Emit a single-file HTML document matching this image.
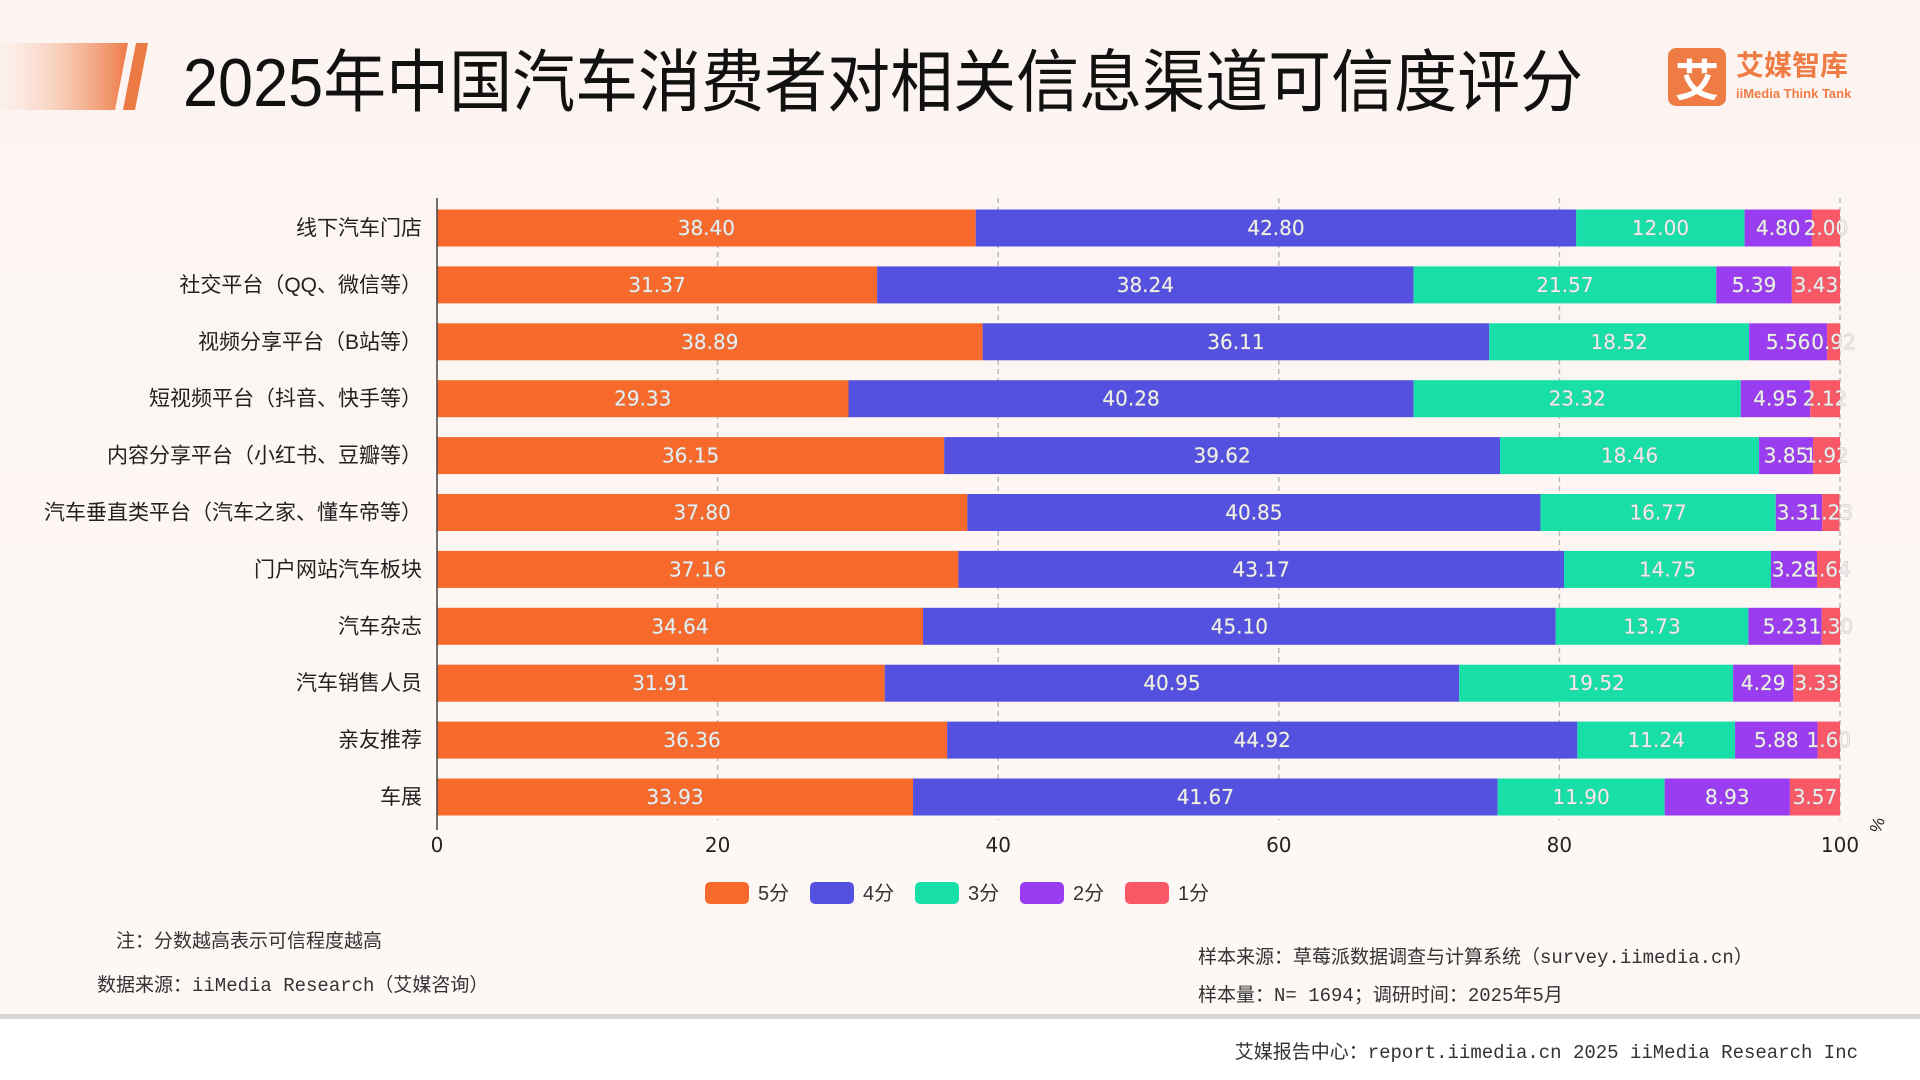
<!DOCTYPE html>
<html><head><meta charset="utf-8"><style>
body{margin:0;width:1920px;height:1080px;overflow:hidden;background:linear-gradient(180deg,#fcf4f0 0%,#fdf7f4 60%,#fdf8f6 100%);font-family:"Liberation Sans","Noto Sans CJK SC",sans-serif;position:relative}
.abs{position:absolute}
</style></head><body>
<svg class="abs" style="left:0;top:0" width="160" height="120">
<defs><linearGradient id="g" x1="0" x2="1"><stop offset="0" stop-color="#fbe9e0" stop-opacity="0.3"/><stop offset="1" stop-color="#ee7a45"/></linearGradient></defs>
<polygon points="0,43 128,43 115,110 0,110" fill="url(#g)"/>
<polygon points="136,43 148,43 135,110 123,110" fill="#ec7a45"/>
</svg>
<div class="abs" style="left:183px;top:28px;font-size:63px;color:#111;font-family:'Liberation Sans','Noto Sans CJK SC',sans-serif;white-space:nowrap;transform:scaleY(1.08);transform-origin:left top">2025年中国汽车消费者对相关信息渠道可信度评分</div>
<div class="abs" style="left:1668px;top:48px;width:192px;height:60px">
<div style="position:absolute;left:0;top:0;width:58px;height:58px;background:#ef7b45;border-radius:8px;color:#fff;font-size:44px;line-height:58px;text-align:center;font-family:'Noto Sans CJK SC',sans-serif;font-weight:bold">艾</div>
<div style="position:absolute;left:68px;top:0;font-size:28px;color:#ef7b45;font-weight:bold;font-family:'Noto Sans CJK SC',sans-serif;line-height:32px">艾媒智库</div>
<div style="position:absolute;left:68px;top:38px;font-size:13px;color:#ef7b45;font-weight:bold;white-space:nowrap">iiMedia Think Tank</div>
</div>
<svg id="chart" class="abs" style="left:0;top:0" width="1920" height="1080"></svg>
<div class="abs" style="left:116px;top:926px;font-size:19px;color:#333">注：分数越高表示可信程度越高</div>
<div class="abs" style="left:97px;top:970px;font-size:19px;color:#333;font-family:'Liberation Mono','Noto Sans CJK SC',monospace">数据来源：iiMedia Research（艾媒咨询）</div>
<div class="abs" style="left:1198px;top:942px;font-size:19px;color:#333;font-family:'Liberation Mono','Noto Sans CJK SC',monospace;white-space:nowrap">样本来源：草莓派数据调查与计算系统（survey.iimedia.cn）</div>
<div class="abs" style="left:1198px;top:980px;font-size:19px;color:#333;font-family:'Liberation Mono','Noto Sans CJK SC',monospace;white-space:nowrap">样本量：N= 1694；调研时间：2025年5月</div>
<div class="abs" style="left:0;top:1014px;width:1920px;height:5px;background:#d6d6d6"></div>
<div class="abs" style="left:0;top:1019px;width:1920px;height:61px;background:#fff"></div>
<div class="abs" style="right:62px;top:1037px;font-size:19px;color:#333;font-family:'Liberation Mono','Noto Sans CJK SC',monospace;white-space:nowrap">艾媒报告中心：report.iimedia.cn  2025 iiMedia Research Inc</div>
<script>
const categories=["线下汽车门店","社交平台（QQ、微信等）","视频分享平台（B站等）","短视频平台（抖音、快手等）","内容分享平台（小红书、豆瓣等）","汽车垂直类平台（汽车之家、懂车帝等）","门户网站汽车板块","汽车杂志","汽车销售人员","亲友推荐","车展"];
const s5=[38.40,31.37,38.89,29.33,36.15,37.80,37.16,34.64,31.91,36.36,33.93];
const s4=[42.80,38.24,36.11,40.28,39.62,40.85,43.17,45.10,40.95,44.92,41.67];
const s3=[12.00,21.57,18.52,23.32,18.46,16.77,14.75,13.73,19.52,11.24,11.90];
const s2=[4.80,5.39,5.56,4.95,3.85,3.31,3.28,5.23,4.29,5.88,8.93];
const s1=[2.00,3.43,0.92,2.12,1.92,1.23,1.64,1.30,3.33,1.60,3.57];
const seriesNames=["5分","4分","3分","2分","1分"];
const xTicks=[0,20,40,60,80,100];
const colors=["#f86a2c","#5450e0","#17dfa7","#9a3cf0","#f95866"];
const series=[s5,s4,s3,s2,s1];
const svg=document.getElementById('chart');const NS="http://www.w3.org/2000/svg";
const X0=437,X1=1840,Y0=228,DY=56.9,BH=37;
const x=v=>X0+(X1-X0)*v/100;const y=i=>Y0+DY*i;
function mk(t,a,p){const e=document.createElementNS(NS,t);for(const k in a)e.setAttribute(k,a[k]);(p||svg).appendChild(e);return e;}
xTicks.forEach(t=>{if(t>0){const l=mk('line',{x1:x(t),x2:x(t),y1:198,y2:820,stroke:'#bbb','stroke-dasharray':'5,4','stroke-width':1.5});}
const tx=mk('text',{x:x(t),y:852,'text-anchor':'middle','font-size':20,fill:'#222','font-family':'DejaVu Sans,sans-serif'});tx.textContent=t;});
const pc=mk('text',{x:1880,y:834,'font-size':17,fill:'#222',transform:'rotate(-70 1880 834)'});pc.textContent='%';
categories.forEach((c,i)=>{let acc=0;
const lb=mk('text',{x:422,y:y(i)+7,'text-anchor':'end','font-size':21,fill:'#222'});lb.textContent=c;
series.forEach((s,k)=>{const v=s[i];const r=mk('rect',{x:x(acc),y:y(i)-BH/2,width:x(acc+v)-x(acc),height:BH,fill:colors[k]});
const t=mk('text',{x:(x(acc)+x(acc+v))/2,y:y(i)+7,'text-anchor':'middle','font-size':20,fill:'#eeeeee',stroke:'#999','stroke-width':0.5,'paint-order':'stroke','font-family':'DejaVu Sans,sans-serif'});t.textContent=v.toFixed(2);acc+=v;});});
const ax=mk('line',{x1:X0,x2:X0,y1:198,y2:830,stroke:'#444','stroke-width':1.5});
seriesNames.forEach((n,k)=>{const lx=705+k*105;const g=mk('g',{});
mk('rect',{x:lx,y:882,width:44,height:22,rx:5,fill:colors[k]},g);const t=mk('text',{x:lx+53,y:900,'font-size':20,fill:'#333'},g);t.textContent=n;});
</script>
</body></html>
